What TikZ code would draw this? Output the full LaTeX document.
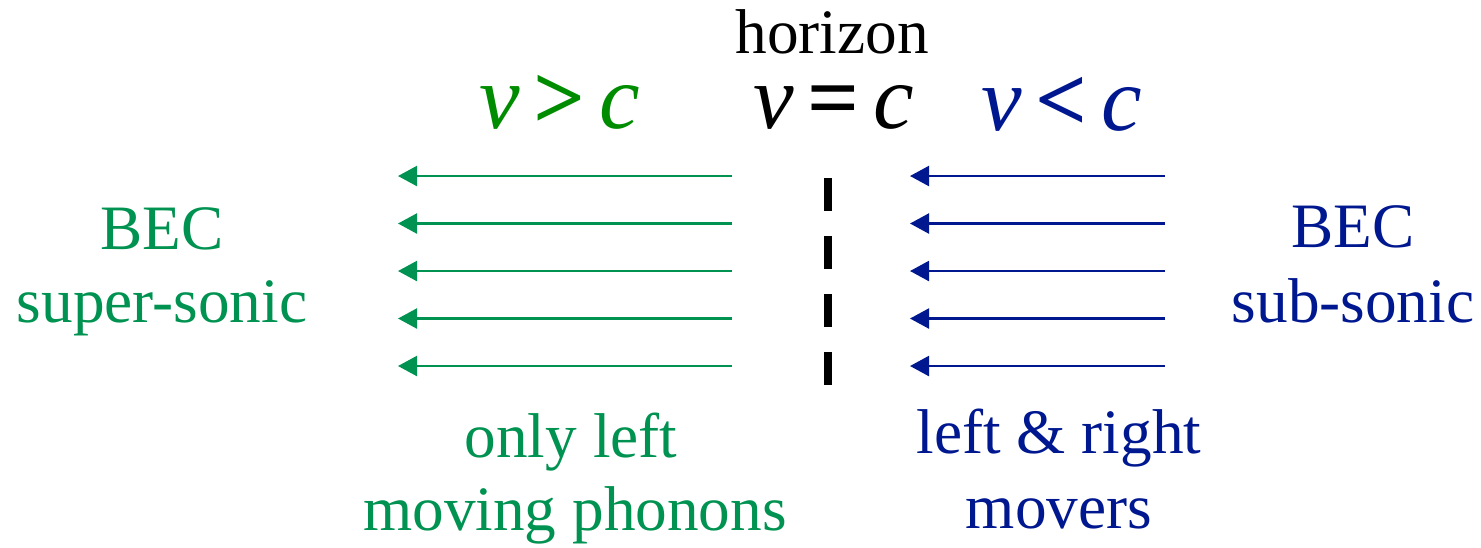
\documentclass[tikz,border=0pt]{standalone}
\usepackage{fontspec}
\setmainfont{Liberation Serif}
\usetikzlibrary{arrows.meta,positioning}
\definecolor{becgreen}{RGB}{0,146,80}
\definecolor{fastgreen}{RGB}{0,140,0}
\definecolor{becblue}{RGB}{0,24,143}

\begin{document}
\begin{tikzpicture}[
    txt/.style={inner sep=0pt,anchor=base,font=\fontsize{18}{21}\selectfont},
    speed/.style={inner sep=0pt,anchor=base,font=\fontsize{26}{30}\selectfont},
    flow/.style={-{Triangle[length=0.19cm,width=0.2cm]},line width=0.65pt},
    horizonline/.style={line width=2.3pt,dash pattern=on 0.33cm off 0.25cm}
]
    \useasboundingbox (0,0) rectangle (14.81,-5.47);

    % horizon and the three speeds
    \node[txt] (horizon) at (8.32,-0.53) {horizon};
    \node[speed,fastgreen] (vgt) at (5.60,-1.28) {\textit{v}\hspace{0.15em}\textbf{>}\hspace{0.15em}\textit{c}};
    \node[speed] (veq) at (8.34,-1.28) {\textit{v}\hspace{0.15em}\textbf{=}\hspace{0.15em}\textit{c}};
    \node[speed,becblue] (vlt) at (10.62,-1.30) {\textit{v}\hspace{0.15em}\textbf{<}\hspace{0.15em}\textit{c}};

    % condensate on both sides
    \node[txt,becgreen] (becL) at (1.62,-2.49) {BEC};
    \node[txt,becgreen] (superL) at (1.62,-3.22) {super-sonic};
    \node[txt,becblue] (becR) at (13.53,-2.47) {BEC};
    \node[txt,becblue] (subR) at (13.53,-3.22) {sub-sonic};

    % flow arrows
    \foreach \i in {0,...,4}{
        \coordinate (gs\i) at (7.32,{-1.76-0.475*\i});
        \coordinate (ge\i) at (3.98,{-1.76-0.475*\i});
        \draw[flow,becgreen] (gs\i) -- (ge\i);
        \coordinate (bs\i) at (11.65,{-1.76-0.475*\i});
        \coordinate (be\i) at (9.10,{-1.76-0.475*\i});
        \draw[flow,becblue] (bs\i) -- (be\i);
    }

    \coordinate (htop) at (8.28,-1.78);
    \coordinate (hbot) at (8.28,-3.86);
    \draw[horizonline] (htop) -- (hbot);

    % phonons
    \node[txt,becgreen] (onlyL) at (5.71,-4.57) {only left};
    \node[txt,becgreen] (movL) at (5.75,-5.30) {moving phonons};
    \node[txt,becblue] (lrR) at (10.59,-4.53) {left \& right};
    \node[txt,becblue] (movR) at (10.59,-5.28) {movers};
\end{tikzpicture}
\end{document}
